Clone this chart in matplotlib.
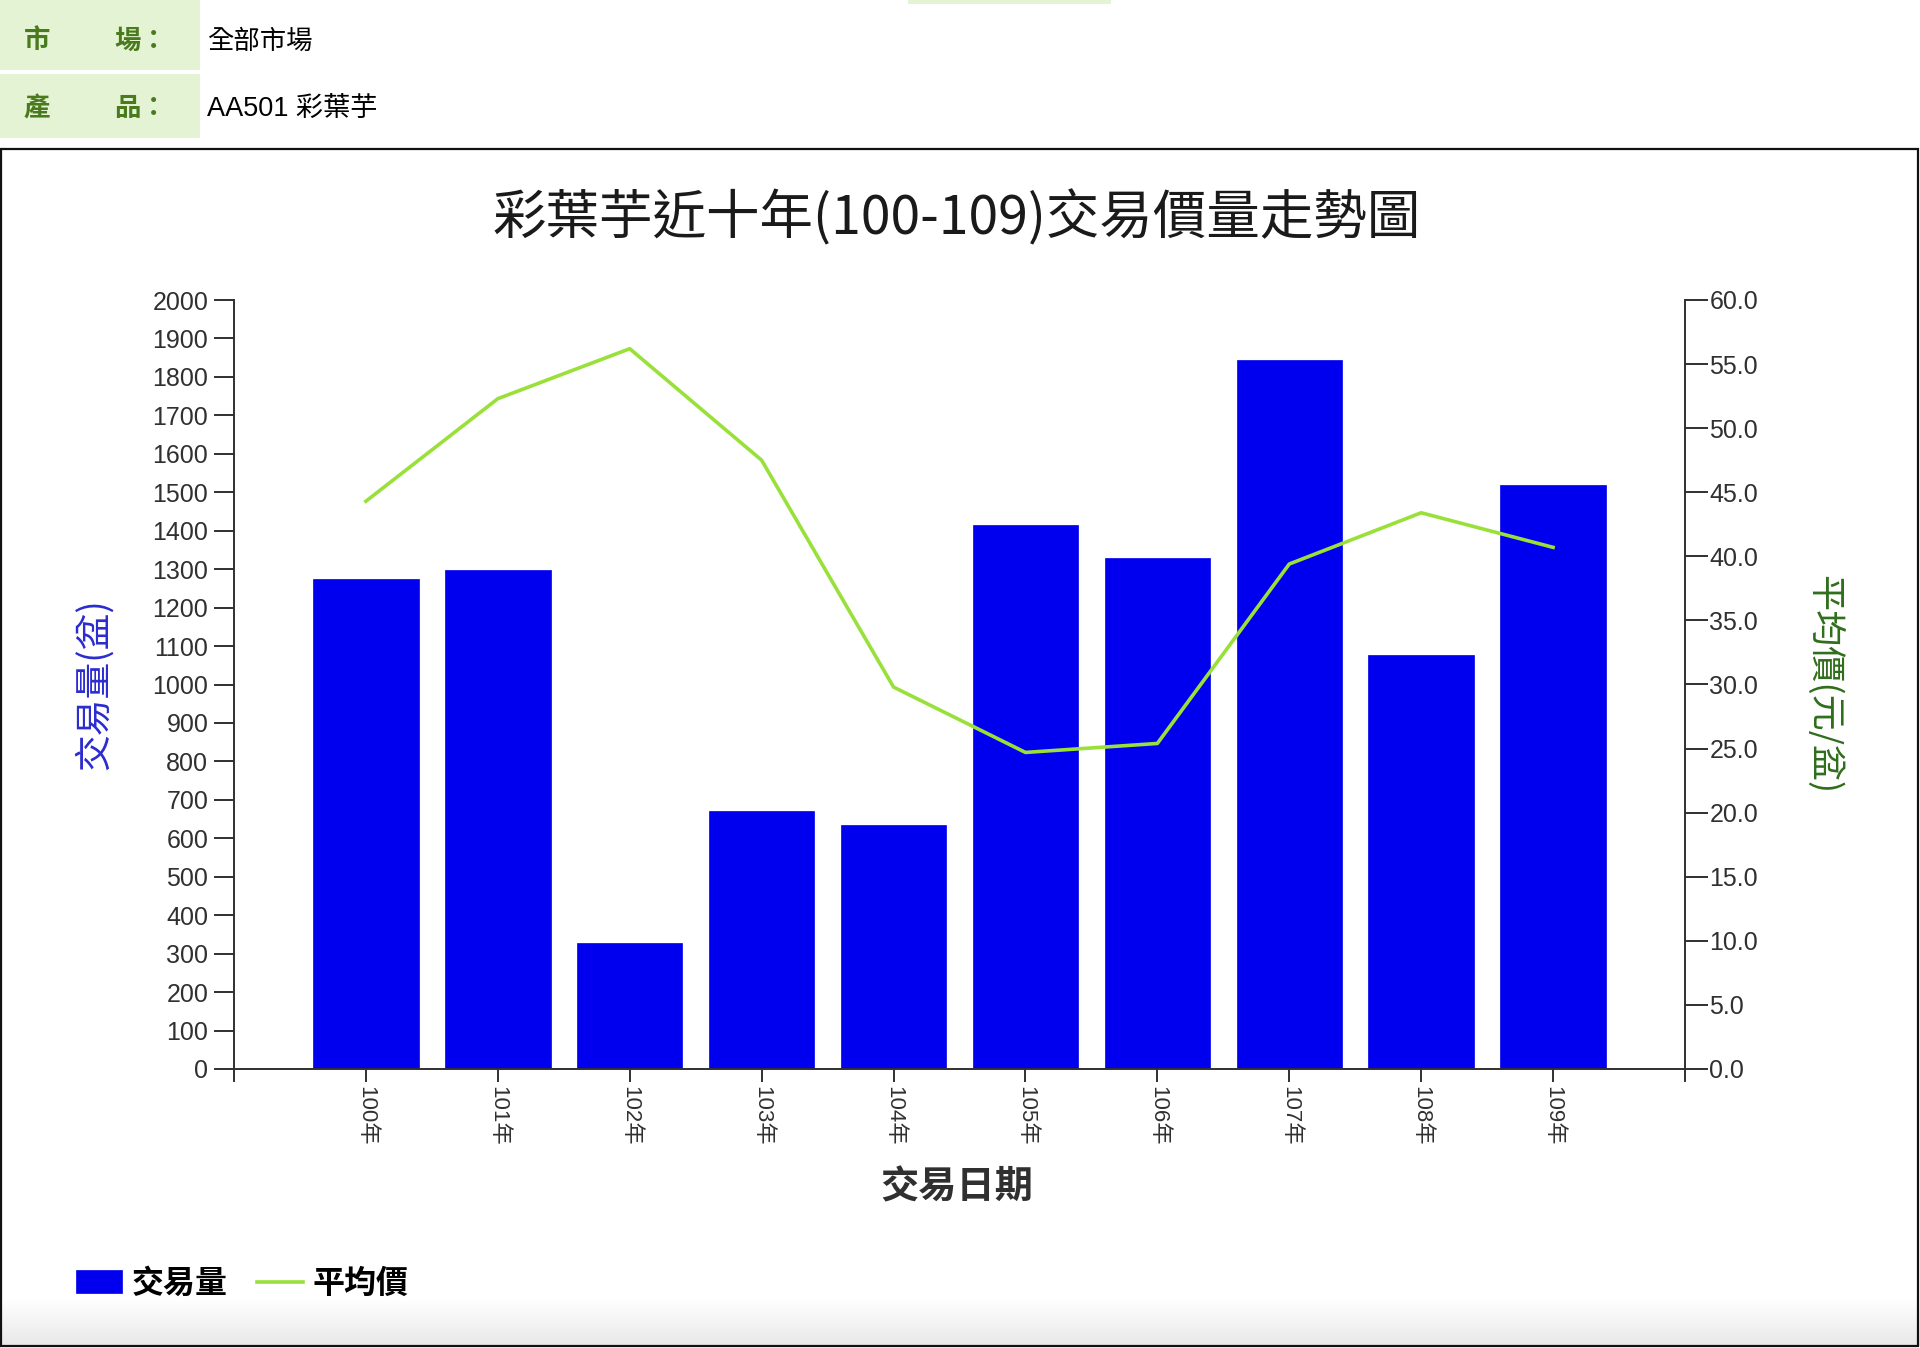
import matplotlib
matplotlib.use("Agg")
import matplotlib.pyplot as plt
import numpy as np
from matplotlib.patches import Rectangle

plt.rcParams['font.family'] = ['Noto Sans CJK TC', 'DejaVu Sans']

# ---- data ----
years = ["100年", "101年", "102年", "103年", "104年", "105年", "106年", "107年", "108年", "109年"]
volume = [1275, 1297, 328, 670, 634, 1416, 1328, 1845, 1077, 1520]
avg_price = [44.3, 52.3, 56.2, 47.5, 29.8, 24.7, 25.4, 39.4, 43.4, 40.7]
left_ticks = list(range(0, 2001, 100))
right_ticks = [0, 5, 10, 15, 20, 25, 30, 35, 40, 45, 50, 55, 60]

title = "彩葉芋近十年(100-109)交易價量走勢圖"
market_label, market_value = ("市", "場："), "全部市場"
product_label, product_value = ("產", "品："), "AA501 彩葉芋"

W, H = 1920, 1348
fig = plt.figure(figsize=(W / 100, H / 100), dpi=100)
fig.patch.set_facecolor("white")

def fx(px):
    return px / W

def fy(py):
    return 1 - py / H

cell_green = "#E4F3D3"
label_green = "#4A7A1E"
num_font = ['Liberation Sans', 'Noto Sans CJK TC']

# ---- header ----
fig.patches.append(Rectangle((fx(0), fy(7)), fx(200), 7 / H, transform=fig.transFigure,
                             facecolor=cell_green, edgecolor="none"))
fig.patches.append(Rectangle((fx(908), fy(4)), fx(203), 4 / H, transform=fig.transFigure,
                             facecolor=cell_green, edgecolor="none"))
fig.patches.append(Rectangle((fx(0), fy(70)), fx(200), 64 / H, transform=fig.transFigure,
                             facecolor=cell_green, edgecolor="none"))
fig.patches.append(Rectangle((fx(0), fy(138)), fx(200), 64 / H, transform=fig.transFigure,
                             facecolor=cell_green, edgecolor="none"))
row1, row2 = 41, 109
fig.text(fx(24), fy(row1), market_label[0], color=label_green, fontsize=19, fontweight="bold", va="center", ha="left")
fig.text(fx(114), fy(row1), market_label[1], color=label_green, fontsize=19, fontweight="bold", va="center", ha="left")
fig.text(fx(207), fy(row1), market_value, color="black", fontsize=19, va="center", ha="left")
fig.text(fx(24), fy(row2), product_label[0], color=label_green, fontsize=19, fontweight="bold", va="center", ha="left")
fig.text(fx(114), fy(row2), product_label[1], color=label_green, fontsize=19, fontweight="bold", va="center", ha="left")
fig.text(fx(207), fy(row2), product_value, color="black", fontsize=19.5, va="center", ha="left",
         family=num_font)

# ---- bottom gradient of chart box ----
gax = fig.add_axes([0, fy(1346), 1, (1346 - 1300) / H])
grad = np.linspace(0, 1, 100).reshape(-1, 1)
gax.imshow(grad, aspect="auto", cmap=matplotlib.colors.LinearSegmentedColormap.from_list(
    "g", ["#E8E8E8", "#FFFFFF"]), origin="lower", extent=[0, 1, 0, 1])
gax.axis("off")

# chart box border
fig.patches.append(Rectangle((fx(1), fy(1346)), fx(1917), (1346 - 149) / H, transform=fig.transFigure,
                             facecolor="none", edgecolor="#111111", linewidth=1.6))

# ---- main axes ----
left, right, top, bottom = 234, 1685, 300, 1069
ax = fig.add_axes([fx(left), fy(bottom), fx(right - left), (bottom - top) / H])
ax.patch.set_alpha(0)
x = np.arange(len(years))
bars = ax.bar(x, volume, width=0.8, color="#0000EE", edgecolor="#0000EE", linewidth=0.5,
              label="交易量", zorder=2)
ax.set_xlim(-1, len(years))
ax.set_ylim(0, 2000)
ax.set_yticks(left_ticks)
ax.set_yticklabels([str(t) for t in left_ticks], family=num_font, fontsize=18, color="#303030")
ax.set_xticks(x)
ax.set_xticklabels(years, rotation=270, family=num_font, fontsize=16, color="#303030")
ax.set_xticks([-1, len(years)], minor=True)
ax.tick_params(axis="y", direction="out", length=14.5, width=1.4, pad=4, colors="#303030")
ax.tick_params(axis="x", which="both", direction="out", length=9.5, width=1.4, pad=3, colors="#303030")
for s in ("top", "right"):
    ax.spines[s].set_visible(False)
for s in ("left", "bottom"):
    ax.spines[s].set_color("#303030")
    ax.spines[s].set_linewidth(1.4)

ax.set_ylabel("交易量(盆)", color="#2B2BD0", fontsize=26.5)
ax.yaxis.set_label_coords((114 - left) / (right - left), 0.5)
ax.set_xlabel("交易日期", color="#303030", fontsize=27.5, fontweight="bold")
ax.xaxis.set_label_coords(0.498, (bottom - 1167) / (bottom - top))

ax2 = ax.twinx()
line, = ax2.plot(x, avg_price, color="#99E03A", linewidth=2.6, label="平均價", zorder=3)
ax2.set_ylim(0, 60)
ax2.set_yticks(right_ticks)
ax2.set_yticklabels([f"{t:.1f}" for t in right_ticks], family=num_font, fontsize=18, color="#303030")
ax2.tick_params(axis="y", direction="out", length=16.5, width=1.4, pad=1, colors="#303030")
for s in ("top", "left", "bottom"):
    ax2.spines[s].set_visible(False)
ax2.spines["right"].set_color("#303030")
ax2.spines["right"].set_linewidth(1.4)
ax2.set_ylabel("平均價(元/盆)", color="#2F6E1A", fontsize=26, rotation=270)
ax2.yaxis.set_label_coords((1842 - left) / (right - left), 0.5)

# title
fig.text(fx(957), fy(218), title, ha="center", va="center", fontsize=38.5, color="#1A1A1A")

# legend
fig.legend(handles=[bars, line], loc="center left", bbox_to_anchor=(fx(76), fy(1284)),
           ncol=2, frameon=False, borderpad=0, borderaxespad=0,
           prop={"family": ['Noto Sans CJK TC', 'DejaVu Sans'], "size": 23, "weight": "bold"},
           handlelength=1.45, handleheight=0.72, handletextpad=0.3, columnspacing=0.9)

fig.savefig("out.png", dpi=100)
